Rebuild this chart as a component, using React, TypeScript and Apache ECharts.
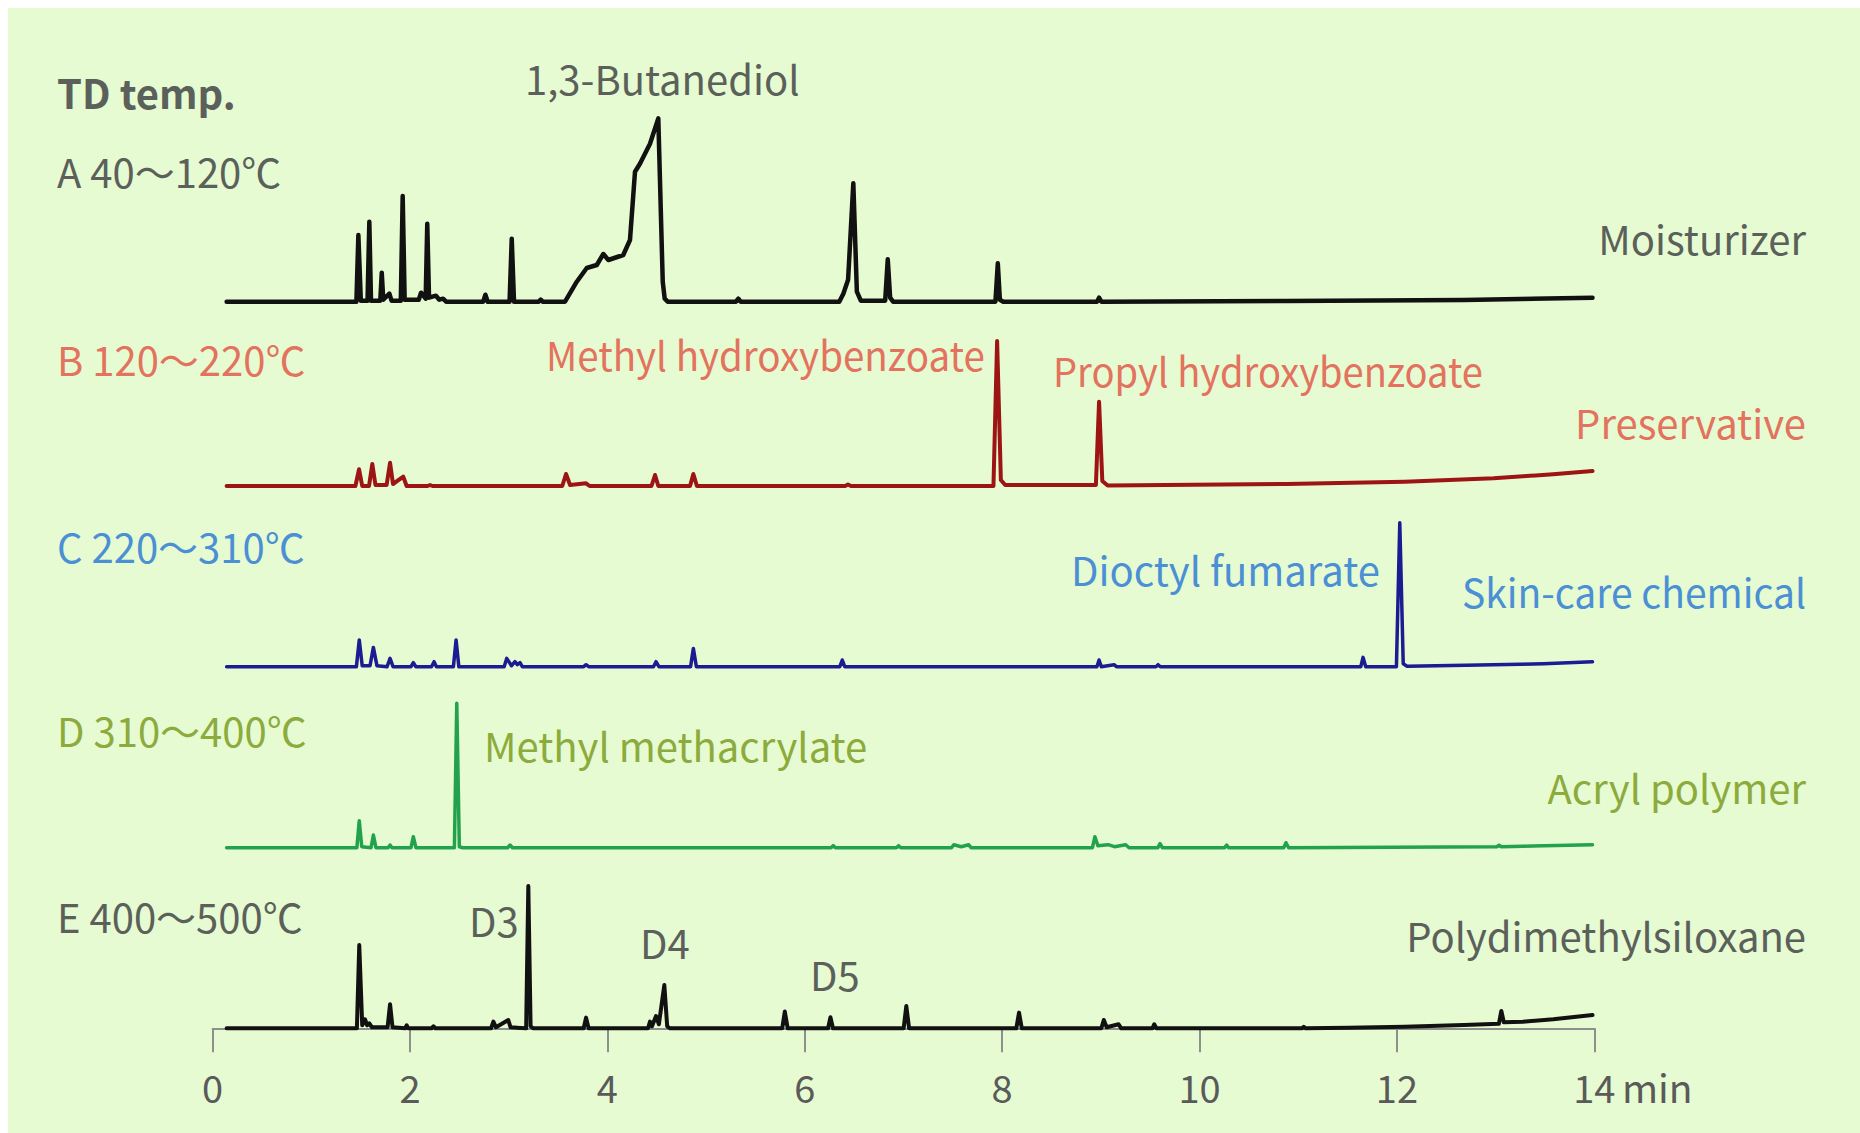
import React, { useEffect, useRef } from "react";
import * as echarts from "echarts";

type Pt = [number, number];

// Retention time (min) vs. detector response (a.u.) for each thermal-desorption step.
const traceA: Pt[] = [
  [0.142, 0], [1.457, 0], [1.477, 66.7], [1.502, 1],
  [1.57, 1], [1.588, 80], [1.605, 1],
  [1.699, 1], [1.714, 29], [1.729, 2], [1.791, 8], [1.813, 1],
  [1.907, 1], [1.926, 105.7], [1.946, 2],
  [2.089, 2], [2.112, 9], [2.159, 3], [2.175, 78], [2.193, 4], [2.263, 6], [2.297, 2], [2.335, 3], [2.366, 0],
  [2.742, 0], [2.764, 7], [2.787, 0],
  [3.009, 0], [3.031, 63], [3.054, 0],
  [3.305, 0], [3.325, 2], [3.345, 0],
  [3.571, 0], [3.69, 20], [3.791, 33.7], [3.893, 36.7], [3.959, 47.7], [4.01, 41.7],
  [4.161, 46.7], [4.229, 61.7], [4.28, 130], [4.33, 138], [4.432, 158], [4.516, 183.3],
  [4.561, 20], [4.581, 3], [4.611, 0],
  [5.302, 0], [5.327, 3], [5.352, 0],
  [6.35, 0], [6.391, 8], [6.439, 22], [6.492, 118.4], [6.528, 10], [6.568, 1],
  [6.815, 1], [6.841, 42.4], [6.865, 4], [6.895, 0],
  [7.932, 0], [7.956, 38.4], [7.977, 2], [8.011, 0],
  [8.96, 0], [8.982, 4], [9.005, 0],
  [10.878, 0.7], [12.677, 1.7], [13.982, 4],
];

const traceB: Pt[] = [
  [0.142, 0], [1.447, 0], [1.484, 16.7], [1.516, 0],
  [1.585, 0], [1.618, 22], [1.65, 1],
  [1.763, 1], [1.798, 23.3], [1.828, 2], [1.932, 9.3], [1.966, 0],
  [2.178, 0], [2.203, 1], [2.228, 0],
  [3.543, 0], [3.581, 12], [3.622, 1], [3.784, 2.7], [3.82, 0],
  [4.447, 0], [4.483, 11], [4.516, 0],
  [4.838, 0], [4.871, 12], [4.907, 0],
  [6.409, 0], [6.438, 1.5], [6.469, 0],
  [7.912, 0], [7.949, 145], [7.987, 6], [8.031, 1],
  [8.95, 1], [8.982, 84.3], [9.015, 5], [9.069, 0.5],
  [10.877, 2], [12.078, 4.3], [12.979, 7.7], [13.582, 11.7], [13.982, 15],
];

const traceC: Pt[] = [
  [0.142, 0], [1.457, 0], [1.486, 26.7], [1.516, 1],
  [1.595, 1], [1.629, 19.3], [1.665, 1],
  [1.768, 0], [1.798, 8.3], [1.828, 0],
  [2.01, 0], [2.034, 4], [2.06, 0],
  [2.218, 0], [2.244, 5], [2.268, 0],
  [2.44, 0], [2.467, 26.7], [2.495, 0],
  [2.954, 0], [2.98, 8.3], [3.029, 1], [3.064, 5], [3.088, 2], [3.115, 4], [3.138, 0],
  [3.76, 0], [3.784, 2], [3.81, 0],
  [4.467, 0], [4.493, 5], [4.522, 0],
  [4.843, 0], [4.871, 18.3], [4.902, 0],
  [6.355, 0], [6.38, 6.7], [6.405, 0],
  [8.96, 0], [8.982, 6.7], [9.005, 0], [9.134, 2], [9.158, 0],
  [9.558, 0], [9.58, 2], [9.603, 0],
  [11.634, 0], [11.657, 9.3], [11.684, 0],
  [11.995, 0], [12.029, 144], [12.064, 3], [12.103, 0.5],
  [12.697, 1.5], [13.487, 3], [13.982, 5],
];

const traceD: Pt[] = [
  [0.142, 0], [1.462, 0], [1.486, 27], [1.511, 1],
  [1.605, 0], [1.629, 12.7], [1.655, 0],
  [1.778, 0], [1.798, 2.7], [1.818, 0],
  [2.01, 0], [2.034, 11], [2.06, 0],
  [2.45, 0], [2.474, 144.4], [2.5, 1], [2.535, 0],
  [2.989, 0], [3.014, 2.7], [3.039, 0],
  [6.266, 0], [6.287, 2], [6.311, 0],
  [6.928, 0], [6.951, 2], [6.973, 0],
  [7.487, 0], [7.51, 3], [7.586, 1], [7.66, 3], [7.685, 0],
  [8.915, 0], [8.94, 11], [8.97, 2], [9.073, 3], [9.138, 1], [9.252, 3], [9.286, 0],
  [9.578, 0], [9.6, 4], [9.623, 0],
  [10.255, 0], [10.275, 2.5], [10.295, 0],
  [10.853, 0], [10.876, 5], [10.903, 0],
  [13.013, 1], [13.035, 2.5], [13.058, 1], [13.982, 3],
];

const traceE: Pt[] = [
  [0.142, 0], [1.462, 0], [1.486, 83.3], [1.516, 3], [1.545, 9], [1.566, 3], [1.588, 5], [1.615, 1],
  [1.773, 1], [1.798, 24], [1.823, 1],
  [1.951, 0], [1.967, 3], [1.981, 0],
  [2.218, 0], [2.237, 2], [2.258, 0],
  [2.821, 0], [2.845, 6.7], [2.871, 1], [2.996, 8.3], [3.019, 1],
  [3.177, 0], [3.199, 142.3], [3.222, 2], [3.247, 0],
  [3.76, 0], [3.784, 10.7], [3.81, 0],
  [4.412, 0], [4.432, 6.7], [4.452, 2], [4.493, 12.3], [4.522, 4], [4.577, 43.3], [4.606, 2], [4.636, 0],
  [5.772, 0], [5.798, 16.7], [5.827, 0],
  [6.236, 0], [6.26, 11], [6.286, 0],
  [7.002, 0], [7.029, 22.3], [7.057, 0],
  [8.144, 0], [8.171, 15.7], [8.199, 0],
  [9.005, 0], [9.03, 8.3], [9.059, 1], [9.18, 4], [9.207, 0],
  [9.523, 0], [9.541, 4], [9.563, 0],
  [11.036, 0], [11.056, 1.5], [11.076, 0],
  [11.51, 0.5], [12.078, 1.5], [12.678, 3.3], [13.033, 4.5], [13.058, 17.3], [13.083, 6],
  [13.276, 6.6], [13.584, 9], [13.982, 13.3],
];

const traces: Pt[][] = [traceA, traceB, traceC, traceD, traceE];
const stepLabels = ["A 40～120℃", "B 120～220℃", "C 220～310℃", "D 310～400℃", "E 400～500℃"];
const sampleLabels = ["Moisturizer", "Preservative", "Skin-care chemical", "Acryl polymer", "Polydimethylsiloxane"];
const peakLabels = [
  "1,3-Butanediol",
  "Methyl hydroxybenzoate",
  "Propyl hydroxybenzoate",
  "Dioctyl fumarate",
  "Methyl methacrylate",
  "D3",
  "D4",
  "D5",
];
const timeTicks = [0, 2, 4, 6, 8, 10, 12, 14];
const timeUnit = "min";

// Styling
const FONT = '"Noto Sans CJK JP", "Noto Sans", sans-serif';
const GREY = "#5b605b";
const lineColors = ["#111111", "#9c1414", "#1b1b92", "#23a24e", "#111111"];
const lineWidths = [4.5, 4, 3.5, 3.5, 4];
const labelColors = [GREY, "#e3735e", "#4b8fd4", "#8cab3c", GREY];

// Layout (px inside the chart box)
const PLOT_LEFT = 204.6;
const PLOT_WIDTH = 1381.7;
const BASE_Y = [293.7, 478, 658.7, 839.7, 1020.3];
const TRACE_SPAN = 200;
const stepLabelY = [163, 351, 538, 722, 908];
const sampleLabelY = [230, 414, 582, 779, 927];
const sampleLabelScale = [1, 1, 0.976, 1, 1];
const peakLabelPos: [number, number][] = [
  [517, 70], [538, 345], [1045, 362], [1063, 561], [476, 737], [461, 912], [632, 934], [802, 966],
];
const peakLabelScale = [1, 0.963, 0.952, 1, 1, 1, 1, 1];
const peakLabelTrace = [0, 1, 1, 2, 3, 4, 4, 4];

export default function App() {
  const ref = useRef<HTMLDivElement>(null);

  useEffect(() => {
    if (!ref.current) return;
    const chart = echarts.init(ref.current, undefined, { renderer: "svg" });

    const grids = BASE_Y.map((b) => ({
      left: PLOT_LEFT,
      width: PLOT_WIDTH,
      top: b - TRACE_SPAN,
      height: TRACE_SPAN,
      containLabel: false,
    }));

    const xAxes = traces.map((_, i) => {
      const last = i === traces.length - 1;
      return {
        type: "value",
        gridIndex: i,
        min: timeTicks[0],
        max: timeTicks[timeTicks.length - 1],
        interval: timeTicks[1] - timeTicks[0],
        show: last,
        offset: last ? 11 : 0,
        axisLine: { show: last, lineStyle: { color: "#8e8e8e", width: 2 } },
        axisTick: { show: last, length: 24, lineStyle: { color: "#8e8e8e", width: 2 } },
        axisLabel: {
          show: last,
          fontSize: 38,
          fontFamily: FONT,
          color: "#5a5a5a",
          margin: 28,
          showMinLabel: true,
          showMaxLabel: true,
        },
        splitLine: { show: false },
      };
    });

    const yAxes = traces.map((_, i) => ({
      type: "value",
      gridIndex: i,
      min: 0,
      max: TRACE_SPAN,
      show: false,
      splitLine: { show: false },
    }));

    const series = traces.map((data, i) => ({
      type: "line",
      xAxisIndex: i,
      yAxisIndex: i,
      data,
      symbol: "none",
      showSymbol: false,
      clip: false,
      silent: true,
      lineStyle: { color: lineColors[i], width: lineWidths[i], join: "round", cap: "round" },
    }));

    const text = (
      t: string,
      x: number,
      y: number,
      fill: string,
      align = "left",
      bold = false,
      scaleX = 1,
      fontSize = 40
    ) => ({
      type: "text",
      x,
      y,
      scaleX,
      silent: true,
      style: {
        text: t,
        fill,
        fontSize,
        fontFamily: FONT,
        fontWeight: bold ? "bold" : "normal",
        align,
        verticalAlign: "middle",
      },
    });

    const graphics: any[] = [text("TD temp.", 49, 84, GREY, "left", true)];
    stepLabels.forEach((s, i) => graphics.push(text(s, 49, stepLabelY[i], labelColors[i])));
    sampleLabels.forEach((s, i) =>
      graphics.push(text(s, 1798, sampleLabelY[i], labelColors[i], "right", false, sampleLabelScale[i]))
    );
    peakLabels.forEach((s, i) =>
      graphics.push(
        text(s, peakLabelPos[i][0], peakLabelPos[i][1], labelColors[peakLabelTrace[i]], "left", false, peakLabelScale[i])
      )
    );
    graphics.push(text(timeUnit, 1614, 1078, "#5a5a5a", "left", false, 1, 39));

    chart.setOption({
      animation: false,
      backgroundColor: "#e6fbd1",
      grid: grids,
      xAxis: xAxes,
      yAxis: yAxes,
      series,
      graphic: { elements: graphics },
    });

    return () => chart.dispose();
  }, []);

  return (
    <div
      ref={ref}
      style={{ position: "fixed", left: 8, top: 8, width: 1852, height: 1125 }}
    />
  );
}
